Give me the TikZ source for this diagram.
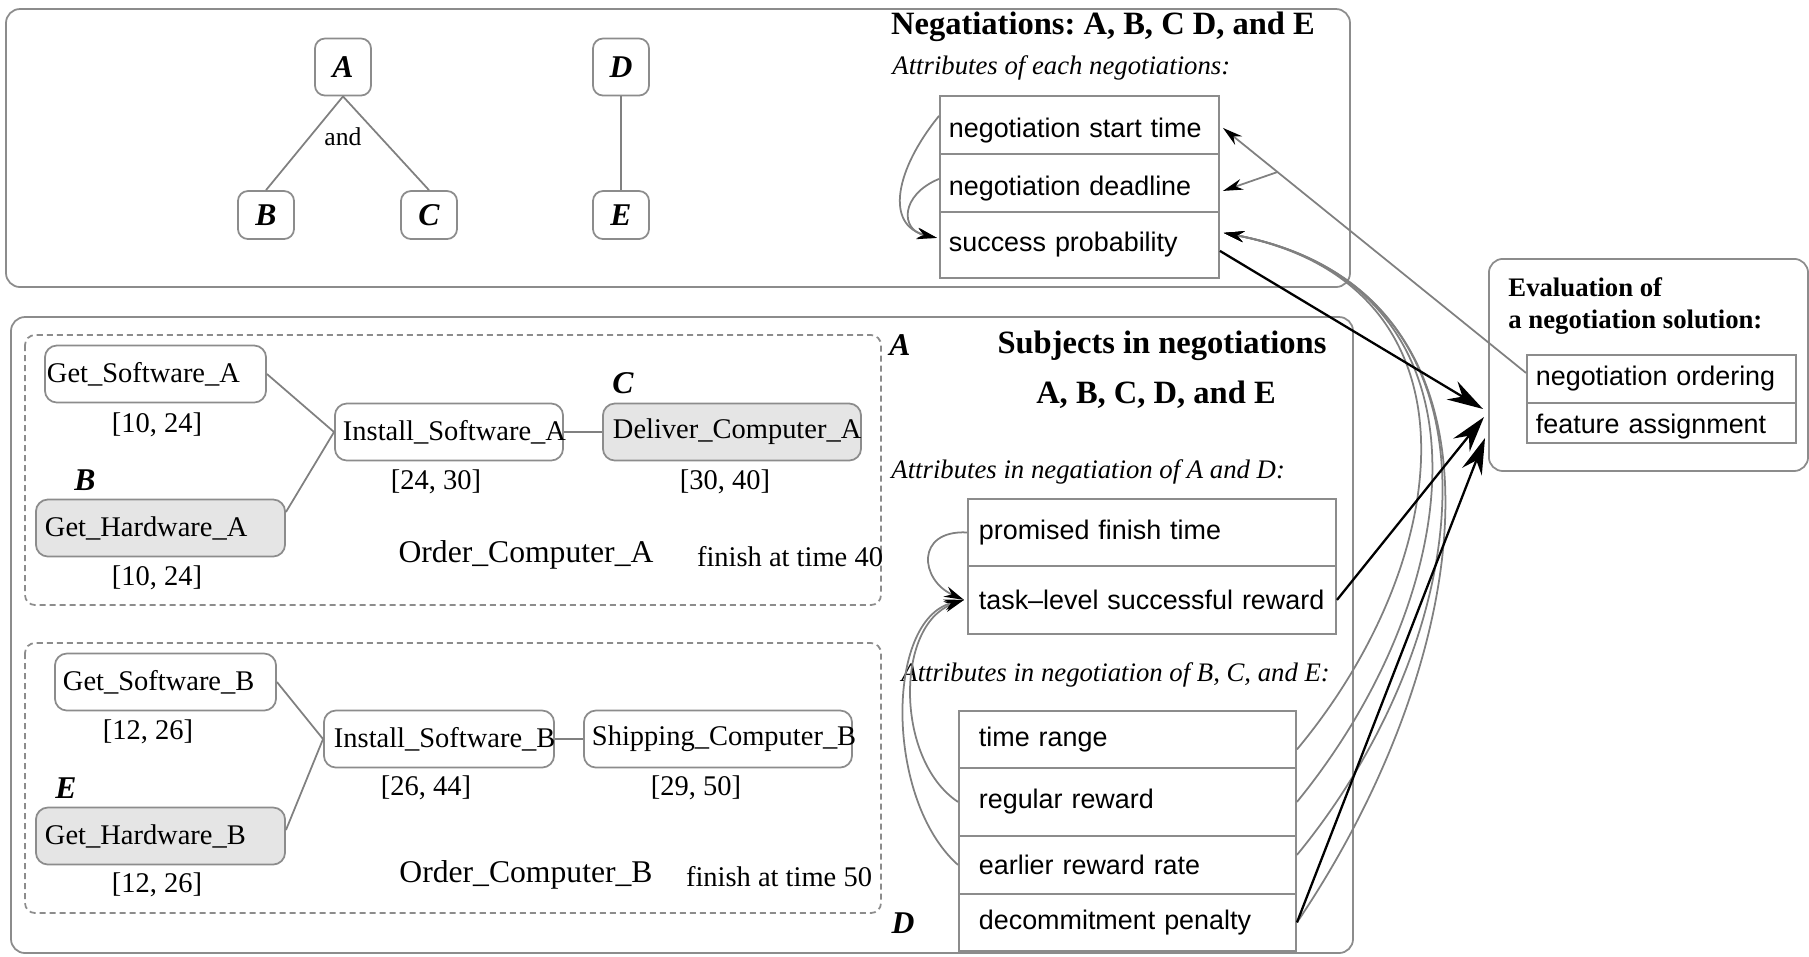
\documentclass[tikz,border=0pt]{standalone}
\usepackage{fontspec}
\setmainfont{Liberation Serif}
\newfontfamily\sansf{Liberation Sans}
\usetikzlibrary{arrows.meta,calc}
\frenchspacing
\definecolor{bord}{gray}{0.55}
\definecolor{lgray}{gray}{0.9}
\definecolor{lin}{gray}{0.5}
\newcommand\fSans{\sansf\fontsize{7.65}{9}\selectfont}
\newcommand\fTask{\fontsize{8.1}{10}\selectfont}
\newcommand\fOrd{\fontsize{9}{11}\selectfont}
\newcommand\fHead{\bfseries\fontsize{9.25}{11}\selectfont}
\newcommand\fItal{\itshape\fontsize{7.6}{9}\selectfont}
\newcommand\fLet{\bfseries\itshape\fontsize{9}{11}\selectfont}
\begin{document}
\begin{tikzpicture}[x=0.01cm,y=-0.01cm,
  frame/.style={draw=bord, line width=0.5pt, rounded corners=0.14cm},
  dframe/.style={draw=bord, line width=0.5pt, dash pattern=on 0.06cm off 0.04cm, rounded corners=0.1cm},
  lbox/.style={draw=bord, line width=0.5pt, rounded corners=0.1cm, minimum width=0.56cm, minimum height=0.48cm, inner sep=0pt, font=\fLet},
  conn/.style={draw=lin, line width=0.5pt},
  gconn/.style={draw=lin, line width=0.5pt},
  row/.style={draw=bord, line width=0.5pt, anchor=north west, inner ysep=0pt, align=left, font=\fSans},
  lowtext/.style={text height=0.32cm, text depth=0.06cm},
  task/.style={draw=bord, line width=0.5pt, rounded corners=0.12cm, inner ysep=0pt, align=left, font=\fTask, minimum height=0.57cm},
  sarrow/.style={-{Stealth[length=0.2cm,width=0.11cm,color=black]}},
  dark/.style={draw=black, line width=0.65pt, -{Stealth[length=0.36cm,width=0.21cm,inset=0.12cm]}}
]
\path[use as bounding box] (0,0) rectangle (1809,956);

% containers
\draw[frame] (6,9) rectangle (1350,287);
\draw[frame] (11,317) rectangle (1353,953);
\draw[dframe] (25,335) rectangle (881,605);
\draw[dframe] (25,643) rectangle (881,913);

% negotiation tree
\node[lbox, minimum height=0.57cm] (nA) at (343,67) {A};
\node[lbox] (nB) at (266,215) {B};
\node[lbox] (nC) at (429,215) {C};
\node[lbox, minimum height=0.57cm] (nD) at (621,67) {D};
\node[lbox] (nE) at (621,215) {E};
\node[font=\fontsize{7.3}{9}\selectfont] (andl) at (343,137) {and};
\draw[conn] (nA.south) -- (nB.north);
\draw[conn] (nA.south) -- (nC.north);
\draw[conn] (nD.south) -- (nE.north);

% top attributes
\node[font=\fHead] (h1) at (1103,27) {Negatiations: A, B, C D, and E};
\node[font=\fItal, anchor=west] (s1) at (880,68) {Attributes of each negotiations:};
\node[row, lowtext, inner xsep=0.09cm, text width=2.61cm, minimum height=0.58cm] (st) at (939,95) {negotiation start time};
\node[row, lowtext, inner xsep=0.09cm, text width=2.61cm, minimum height=0.58cm] (dl) at (939,153) {negotiation deadline};
\node[row, inner xsep=0.09cm, text width=2.61cm, minimum height=0.66cm] (sp) at (939,211) {success probability};

% evaluation
\node[frame, anchor=north west, minimum width=3.19cm, minimum height=2.12cm] (ev) at (1488,258) {};
\node[font=\bfseries\fontsize{7.6}{9.2}\selectfont, align=left, anchor=west] (evt) at (1496,306) {Evaluation of\\a negotiation solution:};
\node[row, inner xsep=0.09cm, text width=2.51cm, minimum height=0.48cm] (no) at (1526,354) {negotiation ordering};
\node[row, text height=0.28cm, text depth=0.06cm, inner xsep=0.09cm, text width=2.51cm, minimum height=0.40cm] (fa) at (1526,402) {feature assignment};

% bottom headings
\node[font=\fHead] (h2) at (1162,346) {Subjects in negotiations};
\node[font=\fHead] (h3) at (1156,395) {A, B, C, D, and E};
\node[font=\fLet] (lA) at (900,345) {A};
\node[font=\fLet] (lD) at (903,923) {D};
\node[font=\fItal, anchor=west] (s2) at (879,472) {Attributes in negatiation of A and D:};
\node[row, inner xsep=0.11cm, text width=3.46cm, minimum height=0.67cm] (pf) at (967,498) {promised finish time};
\node[row, inner xsep=0.11cm, text width=3.46cm, minimum height=0.68cm] (tl) at (967,565) {\mbox{task–level successful reward}};
\node[font=\fItal, anchor=west] (s3) at (889,675) {Attributes in negotiation of B, C, and E:};
\node[row, inner xsep=0.2cm, text width=2.97cm, minimum height=0.57cm] (tr) at (958,710) {time range};
\node[row, inner xsep=0.2cm, text width=2.97cm, minimum height=0.68cm] (rr) at (958,767) {regular reward};
\node[row, inner xsep=0.2cm, text width=2.97cm, minimum height=0.58cm] (er) at (958,835) {earlier reward rate};
\node[row, inner xsep=0.2cm, text width=2.97cm, minimum height=0.57cm] (dp) at (958,893) {decommitment penalty};

% tasks A
\node[task, inner xsep=0.02cm, text width=2.17cm] (gsa) at (155.5,374) {\mbox{Get\_Software\_A}};
\node[task, fill=lgray, inner xsep=0.09cm, text width=2.31cm] (gha) at (160.5,528) {\mbox{Get\_Hardware\_A}};
\node[task, inner xsep=0.08cm, text width=2.12cm] (isa) at (449,432) {\mbox{Install\_Software\_A}};
\node[task, fill=lgray, inner xsep=0.1cm, text width=2.38cm] (dca) at (732,432) {\mbox{Deliver\_Computer\_A}};
\node[font=\fTask] (lgsa) at (157,425) {[10, 24]};
\node[font=\fTask] (lgha) at (157,578) {[10, 24]};
\node[font=\fTask] (lisa) at (436,482) {[24, 30]};
\node[font=\fTask] (ldca) at (725,482) {[30, 40]};
\node[font=\fLet] (lB) at (85,480) {B};
\node[font=\fLet] (lC) at (623,383) {C};
\node[font=\fOrd] (oca) at (526,555) {Order\_Computer\_A};
\node[font=\fTask] (fin40) at (790,557) {finish at time 40};
\draw[conn] (gsa.east) -- (isa.west);
\draw[conn] ([yshift=0.16cm]gha.east) -- (isa.west);
\draw[conn] (isa.east) -- (dca.west);

% tasks B
\node[task, inner xsep=0.08cm, text width=2.05cm] (gsb) at (165.5,682) {\mbox{Get\_Software\_B}};
\node[task, fill=lgray, inner xsep=0.09cm, text width=2.31cm] (ghb) at (160.5,836) {\mbox{Get\_Hardware\_B}};
\node[task, inner xsep=0.1cm, text width=2.10cm] (isb) at (439,739) {\mbox{Install\_Software\_B}};
\node[task, inner xsep=0.08cm, text width=2.52cm] (scb) at (718,739) {\mbox{Shipping\_Computer\_B}};
\node[font=\fTask] (lgsb) at (148,732) {[12, 26]};
\node[font=\fTask] (lghb) at (157,885) {[12, 26]};
\node[font=\fTask] (lisb) at (426,788) {[26, 44]};
\node[font=\fTask] (lscb) at (696,788) {[29, 50]};
\node[font=\fLet] (lE) at (66,788) {E};
\node[font=\fOrd] (ocb) at (526,875) {Order\_Computer\_B};
\node[font=\fTask] (fin50) at (779,877) {finish at time 50};
\draw[conn] (gsb.east) -- (isb.west);
\draw[conn] ([yshift=0.06cm]ghb.east) -- (isb.west);
\draw[conn] (isb.east) -- (scb.west);

% curves in top table
\draw[gconn, sarrow] ([yshift=0.09cm]st.west) .. controls (895,170) and (885,225) .. ([yshift=0.07cm,xshift=-0.02cm]sp.west);
\draw[gconn, sarrow] ([yshift=0.04cm]dl.west) .. controls (900,195) and (900,230) .. ([yshift=0.07cm,xshift=-0.02cm]sp.west);

% ordering -> start time, deadline
\draw[gconn, sarrow] ([yshift=0.06cm]no.west) -- ([yshift=-0.03cm,xshift=0.03cm]st.east);
\coordinate (br) at ($([yshift=0.06cm]no.west)!0.82!([yshift=-0.03cm,xshift=0.03cm]st.east)$);
\draw[gconn, sarrow] (br) -- ([yshift=-0.08cm,xshift=0.03cm]dl.east);

% arcs to success probability
\draw[gconn, sarrow] ([yshift=-0.1cm]tr.east) .. controls (1455,560) and (1490,285) .. ([yshift=0.12cm,xshift=0.04cm]sp.east);
\draw[gconn, sarrow] (rr.east) .. controls (1470,590) and (1505,287) .. ([yshift=0.12cm,xshift=0.04cm]sp.east);
\draw[gconn, sarrow] ([yshift=0.1cm]er.east) .. controls (1482,630) and (1520,289) .. ([yshift=0.12cm,xshift=0.04cm]sp.east);
\draw[gconn, sarrow] (dp.east) .. controls (1478,655) and (1532,291) .. ([yshift=0.12cm,xshift=0.04cm]sp.east);

% curves to task-level
\draw[gconn, sarrow] (pf.west) .. controls (915,530) and (920,580) .. ([xshift=-0.03cm]tl.west);
\draw[gconn, sarrow] (rr.west) .. controls (895,760) and (895,625) .. ([xshift=-0.03cm]tl.west);
\draw[gconn, sarrow] (er.west) .. controls (885,800) and (885,620) .. ([xshift=-0.03cm]tl.west);

% dark arrows to evaluation
\draw[dark] ([yshift=-0.06cm]sp.east) -- ([xshift=-0.05cm,yshift=-0.44cm]ev.west);
\draw[dark] (tl.east) -- ([xshift=-0.04cm,yshift=-0.52cm]ev.west);
\draw[dark] (dp.east) -- ([xshift=-0.03cm,yshift=-0.73cm]ev.west);
\end{tikzpicture}
\end{document}
